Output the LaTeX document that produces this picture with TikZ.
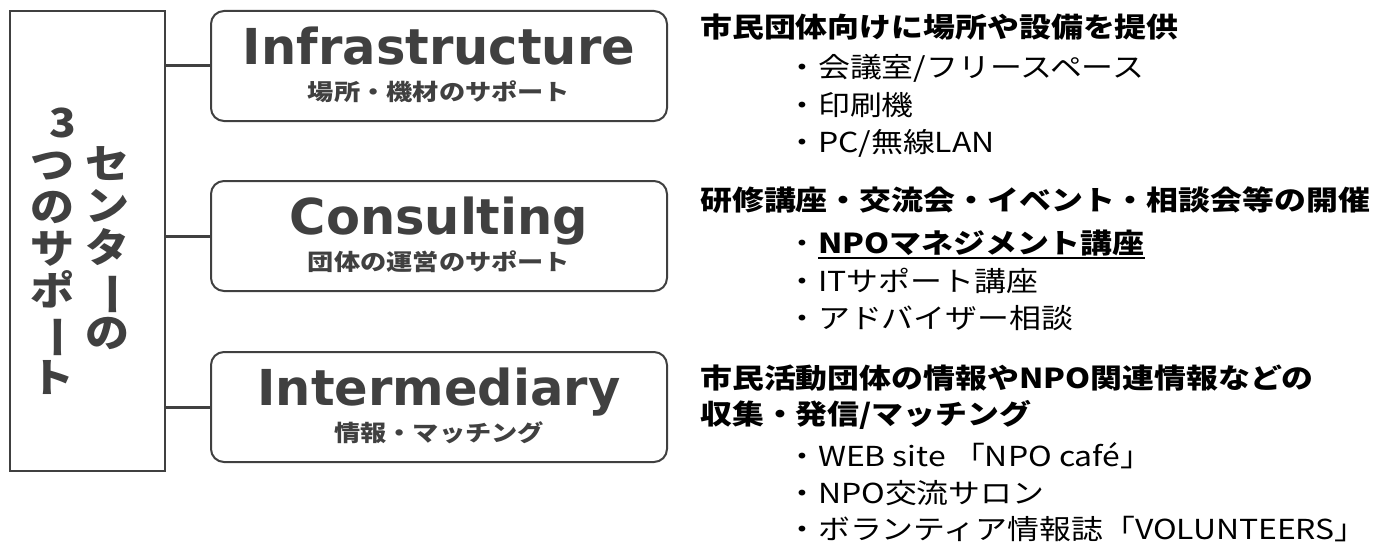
\documentclass[tikz,border=0pt]{standalone}
\usepackage{fontspec}
\setmainfont{DejaVu Sans}
\newfontfamily\jpfont[FakeStretch=1.16]{Noto Sans CJK JP}
\newfontfamily\tatefont[FakeStretch=1.1]{Noto Sans CJK JP}
\definecolor{boxgray}{HTML}{404040}
\tikzset{
  supportbox/.style={draw=boxgray,line width=2pt,rounded corners=13pt,
    minimum width=456pt,minimum height=110pt,inner sep=0pt},
  boxtitle/.style={font=\fontsize{49.5}{50}\selectfont\bfseries,text=boxgray,
    inner sep=0pt,anchor=base},
  boxsub/.style={font=\jpfont\fontsize{22.6}{23}\selectfont\bfseries,text=boxgray,
    inner sep=0pt,anchor=base},
  headtext/.style={font=\jpfont\fontsize{27.5}{28}\selectfont\bfseries,
    inner sep=0pt,anchor=base west},
  itemtext/.style={font=\jpfont\fontsize{27.5}{28}\selectfont,
    inner sep=0pt,anchor=base west},
  tate/.style={font=\tatefont\fontsize{40}{42}\selectfont\bfseries,text=boxgray,
    align=center,inner sep=0pt},
  link/.style={draw=boxgray,line width=3pt}
}
\newcommand{\tatebar}{\rotatebox[origin=c]{-90}{ー}}
\newcommand{\npoline}[1]{\setbox0\hbox{#1}\rlap{\rule[-5pt]{\wd0}{1.8pt}}\box0}

\begin{document}
\begin{tikzpicture}[x=1pt,y=-1pt]
  \useasboundingbox (0,0) rectangle (1373,543);

  \node[draw=boxgray,line width=1.5pt,minimum width=155pt,minimum height=460pt,
    inner sep=0pt] (center) at (87.5,241) {};
  \node[tate] (tateR) at (107,248) {セ\\ン\\タ\\\tatebar\\の};
  \node[tate] (tateL) at (52,251) {\hspace*{22pt}3\\つ\\の\\サ\\ポ\\\tatebar\\ト};

  \foreach \n/\y/\t/\s in {infra/66/Infrastructure/場所・機材のサポート,
                           consult/236/Consulting/団体の運営のサポート,
                           inter/407/Intermediary/情報・マッチング} {
    \node[supportbox] (\n) at (439,\y) {};
    \node[boxtitle] (\n-title) at (439,\y-2) {\t};
    \node[boxsub] (\n-sub) at (439,\y+34) {\s};
    \draw[link] (center.east |- \n.west) -- (\n.west);
  }

  \node[headtext] (infraHead) at (700,38) {市民団体向けに場所や設備を提供};
  \node[itemtext] (infraA) at (786,77.5) {・会議室/フリースペース};
  \node[itemtext] (infraB) at (786,115) {・印刷機};
  \node[itemtext] (infraC) at (786,152.5) {・PC/無線LAN};

  \node[headtext] (consultHead) at (700,210.5) {研修講座・交流会・イベント・相談会等の開催};
  \node[itemtext] (consultA) at (786,253.5) {・\bfseries\npoline{NPOマネジメント講座}};
  \node[itemtext] (consultB) at (786,291) {・ITサポート講座};
  \node[itemtext] (consultC) at (786,328.5) {・アドバイザー相談};

  \node[headtext] (interHeadA) at (700,388.5) {市民活動団体の情報やNPO関連情報などの};
  \node[headtext] (interHeadB) at (700,424.5) {収集・発信/マッチング};
  \node[itemtext] (interA) at (786,466.5) {・WEB site 「NPO café」};
  \node[itemtext] (interB) at (786,503.5) {・NPO交流サロン};
  \node[itemtext] (interC) at (786,539.5) {・ボランティア情報誌「VOLUNTEERS」};
\end{tikzpicture}
\end{document}
